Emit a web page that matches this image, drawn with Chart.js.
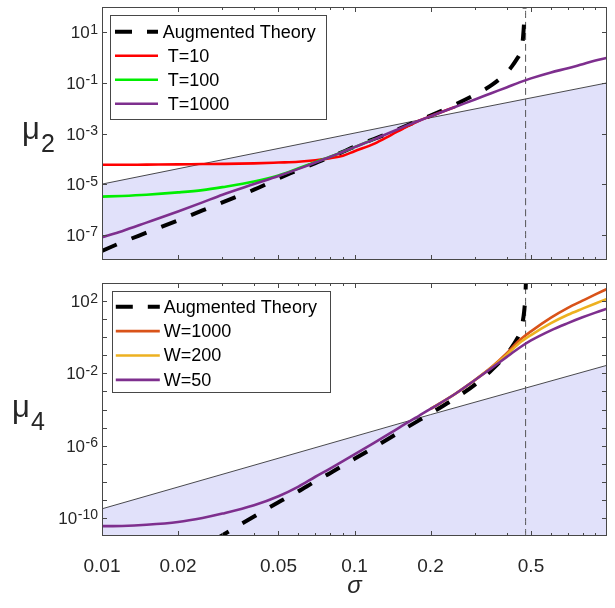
<!DOCTYPE html>
<html lang="en">
<head>
<meta charset="UTF-8">
<title>mu2 and mu4 versus sigma</title>
<script src="https://cdn.jsdelivr.net/npm/chart.js@4"></script>
<style>
    body { margin: 0; background: #fff; }
    #wrap { position: relative; width: 615px; height: 608px; }
    canvas { position: absolute; left: 0; }
    #topChart { top: 0; }
    #bottomChart { top: 270px; }
</style>
</head>
<body>
<div id="wrap">
    <canvas id="topChart" width="615" height="270"></canvas>
    <canvas id="bottomChart" width="615" height="338"></canvas>
</div>
<script>
// ---- data ----
const sigma = [0.01, 0.012, 0.015, 0.02, 0.025, 0.03, 0.04, 0.05, 0.06, 0.07, 0.08, 0.09, 0.1,
               0.12, 0.14, 0.16, 0.18, 0.2, 0.25, 0.3, 0.35, 0.4, 0.45, 0.5, 0.6, 0.7, 0.8, 0.9, 1.0];
const sigmaCritical = 0.476;   // dashed vertical line

// top panel: mu2
const mu2T1000 = [7.9e-8, 1.38e-7, 3.0e-7, 8.3e-7, 1.9e-6, 3.8e-6, 1.0e-5, 2.1e-5, 4.0e-5, 7.1e-5, 1.17e-4, 1.9e-4, 2.9e-4,
                  6.0e-4, 1.15e-3, 2.0e-3, 3.2e-3, 4.8e-3, 1.12e-2, 2.2e-2, 4.0e-2, 6.6e-2, 0.105, 0.151, 0.26, 0.38, 0.55, 0.76, 0.98];
const mu2T10 = [5.8e-5, 5.8e-5, 5.9e-5, 6.0e-5, 6.2e-5, 6.3e-5, 6.6e-5, 7.1e-5, 7.6e-5, 8.7e-5, 1.05e-4, 1.32e-4, 2.0e-4,
                4.0e-4, 8.9e-4, 1.8e-3, 3.2e-3, 4.8e-3, 1.12e-2];
const mu2T100 = [3.2e-6, 3.4e-6, 3.8e-6, 4.7e-6, 5.8e-6, 7.6e-6, 1.26e-5, 2.2e-5, 4.2e-5, 7.4e-5, 1.2e-4, 1.9e-4, 2.9e-4, 6.0e-4];
const sigmaTheory2 = [0.01, 0.012, 0.015, 0.02, 0.025, 0.03, 0.04, 0.05, 0.06, 0.07, 0.08, 0.09, 0.1, 0.12, 0.14, 0.16,
                      0.18, 0.2, 0.25, 0.3, 0.35, 0.4, 0.42, 0.44, 0.45, 0.46, 0.465, 0.47, 0.473];
const mu2Theory = [2.3e-8, 5.0e-8, 1.2e-7, 3.7e-7, 9.1e-7, 1.9e-6, 6.0e-6, 1.66e-5, 3.6e-5, 6.8e-5, 1.15e-4, 1.9e-4, 3.0e-4,
                   6.2e-4, 1.15e-3, 2.0e-3, 3.3e-3, 5.1e-3, 1.38e-2, 3.4e-2, 8.3e-2, 0.25, 0.45, 0.89, 1.3, 2.5, 6.3, 32, 200];
const sigmaBound = [0.01, 0.2, 1.0];
const mu2Bound = [1.0e-5, 4.2e-3, 0.1];

// bottom panel: mu4
const mu4W50 = [3.5e-11, 3.6e-11, 4.2e-11, 6.0e-11, 1.0e-10, 1.74e-10, 5.0e-10, 1.58e-9, 5.4e-9, 1.9e-8, 5.4e-8, 1.41e-7, 3.3e-7,
                1.48e-6, 5.4e-6, 1.7e-5, 4.5e-5, 1.07e-4, 7.2e-4, 4.3e-3, 2.0e-2, 7.9e-2, 0.26, 0.66, 2.4, 6.0, 12.6, 23, 38];
const sigmaHigh = [0.2, 0.25, 0.3, 0.35, 0.4, 0.45, 0.5, 0.6, 0.7, 0.8, 0.9, 1.0];
const mu4W1000 = [1.07e-4, 7.2e-4, 4.3e-3, 2.3e-2, 0.126, 0.68, 2.1, 12, 42, 105, 234, 468];
const mu4W200 = [1.07e-4, 7.2e-4, 4.3e-3, 2.2e-2, 0.105, 0.48, 1.32, 6.0, 17.4, 38, 74, 132];
const sigmaTheory4 = [0.028, 0.03, 0.035, 0.04, 0.05, 0.06, 0.07, 0.08, 0.09, 0.1, 0.12, 0.14, 0.16, 0.18, 0.2,
                      0.25, 0.3, 0.35, 0.4, 0.42, 0.44, 0.45, 0.46, 0.47, 0.475, 0.478];
const mu4Theory = [6.3e-12, 1.1e-11, 4.0e-11, 1.2e-10, 7.4e-10, 3.0e-9, 1.07e-8, 3.0e-8, 7.9e-8, 1.86e-7, 8.3e-7, 3.0e-6,
                   9.5e-6, 2.5e-5, 6.0e-5, 4.1e-4, 2.4e-3, 1.58e-2, 0.112, 0.28, 0.79, 1.5, 4.2, 28, 200, 2000];
const mu4Bound = [3.2e-10, 5.2e-5, 2.8e-2];

// axis ticks
const xMajor = [0.01, 0.02, 0.05, 0.1, 0.2, 0.5];
const xMinor = [0.03, 0.04, 0.06, 0.07, 0.08, 0.09, 0.3, 0.4, 0.6, 0.7, 0.8, 0.9];
const topYLabels = [1, -1, -3, -5, -7];
const bottomYLabels = [2, -2, -6, -10];
const bottomYTicks = [2, 1, 0, -1, -2, -3, -4, -5, -6, -7, -8, -9, -10];

// ---- drawing ----
const FONT = "'Liberation Sans', Arial, Helvetica, sans-serif";
const TEXT = '#262626';
const AXIS = '#474747';

const pts = (xs, ys) => xs.map((x, i) => ({ x: x, y: ys[i] }));

// MATLAB-like box: inward ticks, 10^n labels, horizontal y title, framed legend
const matlabAxes = {
    id: 'matlabAxes',
    afterDatasetsDraw(chart, args, opts) {
        const { ctx, chartArea: a } = chart;
        const L = opts.legend;
        const bx = a.left + L.dx, by = a.top + L.dy;
        ctx.save();
        ctx.fillStyle = '#fff';
        ctx.fillRect(bx, by, L.w, L.h);
        ctx.strokeStyle = AXIS;
        ctx.lineWidth = 1;
        ctx.strokeRect(Math.round(bx) + 0.5, Math.round(by) + 0.5, Math.round(L.w), Math.round(L.h));
        ctx.font = '18px ' + FONT;
        ctx.textBaseline = 'middle';
        ctx.textAlign = 'left';
        let row = 0;
        chart.data.datasets.forEach(ds => {
            if (ds.hideInLegend) return;
            const ly = by + L.first + row * L.step;
            ctx.beginPath();
            ctx.strokeStyle = ds.borderColor;
            ctx.lineWidth = ds.borderWidth;
            ctx.setLineDash(ds.borderDash ? [17, 15] : []);
            ctx.moveTo(bx + L.lineX0, ly);
            ctx.lineTo(bx + L.lineX1, ly);
            ctx.stroke();
            ctx.setLineDash([]);
            ctx.fillStyle = '#000';
            ctx.fillText(ds.label, bx + L.textX, ly + 1);
            row++;
        });
        ctx.restore();
    },
    afterDraw(chart, args, opts) {
        const { ctx, chartArea: a, scales: { x, y } } = chart;
        ctx.save();
        ctx.strokeStyle = AXIS;
        ctx.lineWidth = 1;
        ctx.strokeRect(a.left + 0.5, a.top + 0.5, a.right - a.left - 1, a.bottom - a.top - 1);

        ctx.beginPath();
        const xTick = (v, len) => {
            const px = Math.round(x.getPixelForValue(v)) + 0.5;
            ctx.moveTo(px, a.bottom); ctx.lineTo(px, a.bottom - len);
            ctx.moveTo(px, a.top); ctx.lineTo(px, a.top + len);
        };
        xMajor.forEach(v => xTick(v, 5));
        xMinor.forEach(v => xTick(v, 3));
        opts.yTicks.forEach(e => {
            const py = Math.round(y.getPixelForValue(Math.pow(10, e))) + 0.5;
            ctx.moveTo(a.left, py); ctx.lineTo(a.left + 5, py);
            ctx.moveTo(a.right, py); ctx.lineTo(a.right - 5, py);
        });
        ctx.stroke();

        // 10^n tick labels
        ctx.fillStyle = TEXT;
        ctx.textAlign = 'right';
        ctx.textBaseline = 'alphabetic';
        opts.yLabels.forEach(e => {
            const py = y.getPixelForValue(Math.pow(10, e));
            const exp = String(e);
            ctx.font = '14px ' + FONT;
            const ew = ctx.measureText(exp).width;
            ctx.fillText(exp, a.left - 4, py + 1.5);
            ctx.font = '17px ' + FONT;
            ctx.fillText('10', a.left - 4.5 - ew, py + 6);
        });

        // y title, e.g. mu with subscript
        ctx.textAlign = 'left';
        ctx.font = '31px ' + FONT;
        ctx.fillText('\u03bc', opts.titleX, opts.titleY);
        ctx.font = '25px ' + FONT;
        ctx.fillText(opts.titleSub, opts.titleX + 19, opts.titleY + 13);
        ctx.restore();
    }
};

function makeChart(id, cfg) {
    return new Chart(document.getElementById(id), {
        type: 'line',
        data: { datasets: cfg.datasets },
        options: {
            responsive: false,
            animation: false,
            devicePixelRatio: 1,
            events: [],
            layout: { padding: { top: cfg.padTop, right: 8, left: 0, bottom: 0 } },
            elements: { point: { radius: 0 }, line: { cubicInterpolationMode: 'monotone', borderJoinStyle: 'round' } },
            scales: {
                x: {
                    type: 'logarithmic', min: 0.01, max: 1,
                    grid: { display: false }, border: { display: false },
                    afterBuildTicks: s => { s.ticks = xMajor.map(v => ({ value: v })); },
                    afterFit: s => { s.height = cfg.xHeight; },
                    ticks: {
                        display: cfg.xLabels, autoSkip: false, maxRotation: 0, padding: 11,
                        color: TEXT, font: { family: FONT, size: 19 },
                        callback: v => String(v)
                    },
                    title: {
                        display: cfg.xLabels, text: '\u03c3', color: TEXT,
                        font: { family: FONT, size: 24, style: 'italic' },
                        padding: { top: 0, bottom: 7 }
                    }
                },
                y: {
                    type: 'logarithmic', min: cfg.yMin, max: cfg.yMax,
                    grid: { display: false }, border: { display: false },
                    ticks: { display: false },
                    afterFit: s => { s.width = 102; }
                }
            },
            plugins: {
                legend: { display: false },
                tooltip: { enabled: false },
                matlabAxes: cfg.axes
            }
        },
        plugins: [matlabAxes]
    });
}

const topMin = 1e-8, topMax = 1e2;
makeChart('topChart', {
    padTop: 7, xHeight: 10, xLabels: false, yMin: topMin, yMax: topMax,
    axes: {
        yTicks: topYLabels, yLabels: topYLabels, titleX: 22, titleY: 139, titleSub: '2',
        legend: { dx: 8, dy: 7.5, w: 216, h: 104, first: 17.2, step: 24, lineX0: 5, lineX1: 48, textX: 52.7 }
    },
    datasets: [
        { label: 'Augmented Theory', data: pts(sigmaTheory2, mu2Theory), borderColor: '#000', borderWidth: 4, borderDash: [16, 16], order: 3, clip: 0 },
        { label: ' T=10', data: pts(sigma.slice(0, mu2T10.length), mu2T10), borderColor: '#ff0000', borderWidth: 2.6, order: 2, clip: 0 },
        { label: ' T=100', data: pts(sigma.slice(0, mu2T100.length), mu2T100), borderColor: '#00ee00', borderWidth: 2.6, order: 1, clip: 0 },
        { label: ' T=1000', data: pts(sigma, mu2T1000), borderColor: '#7e2f8e', borderWidth: 2.6, order: 0, clip: 0 },
        { label: 'critical', hideInLegend: true, data: pts([sigmaCritical, sigmaCritical], [topMin, topMax]),
          borderColor: '#555', borderWidth: 1, borderDash: [7, 4], order: 4, clip: 0 },
        { label: 'bound', hideInLegend: true, data: pts(sigmaBound, mu2Bound), borderColor: '#000', borderWidth: 0.7,
          fill: 'start', backgroundColor: '#e1e1fa', tension: 0, cubicInterpolationMode: 'default', order: 5, clip: 0 }
    ]
});

const botMin = 1e-11, botMax = 1e3;
makeChart('bottomChart', {
    padTop: 13, xHeight: 72, xLabels: true, yMin: botMin, yMax: botMax,
    axes: {
        yTicks: bottomYTicks, yLabels: bottomYLabels, titleX: 12, titleY: 147, titleSub: '4',
        legend: { dx: 9.5, dy: 8, w: 217.6, h: 100.7, first: 15.7, step: 24.4, lineX0: 4.3, lineX1: 48.3, textX: 52.3 }
    },
    datasets: [
        { label: 'Augmented Theory', data: pts(sigmaTheory4, mu4Theory), borderColor: '#000', borderWidth: 4, borderDash: [16, 16], order: 3, clip: 0 },
        { label: 'W=1000', data: pts(sigmaHigh, mu4W1000), borderColor: '#d95319', borderWidth: 2.6, order: 2, clip: 0 },
        { label: 'W=200', data: pts(sigmaHigh, mu4W200), borderColor: '#edb120', borderWidth: 2.6, order: 1, clip: 0 },
        { label: 'W=50', data: pts(sigma, mu4W50), borderColor: '#7e2f8e', borderWidth: 2.6, order: 0, clip: 0 },
        { label: 'critical', hideInLegend: true, data: pts([sigmaCritical, sigmaCritical], [botMin, botMax]),
          borderColor: '#555', borderWidth: 1, borderDash: [7, 4], order: 4, clip: 0 },
        { label: 'bound', hideInLegend: true, data: pts(sigmaBound, mu4Bound), borderColor: '#000', borderWidth: 0.7,
          fill: 'start', backgroundColor: '#e1e1fa', tension: 0, cubicInterpolationMode: 'default', order: 5, clip: 0 }
    ]
});
</script>
</body>
</html>
